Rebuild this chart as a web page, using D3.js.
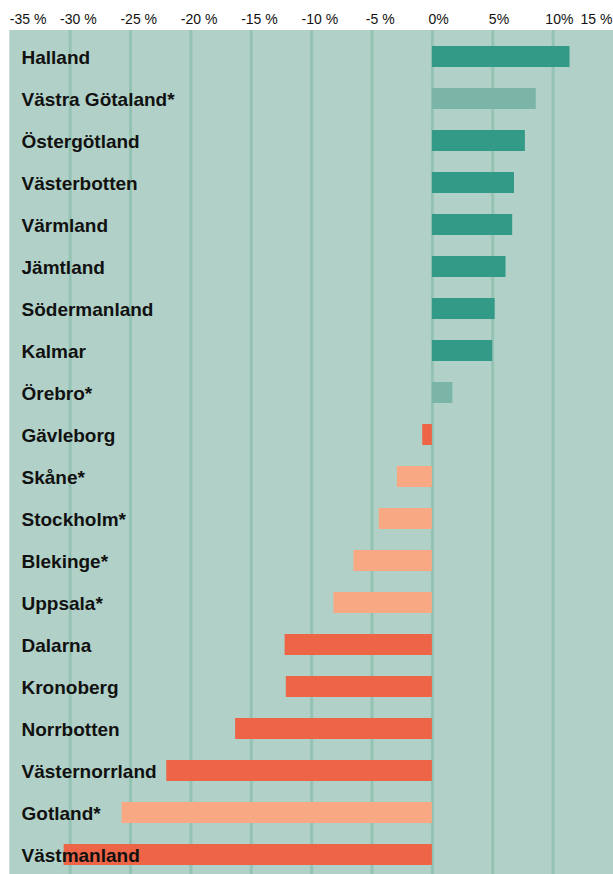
<!DOCTYPE html>
<html>
<head>
<meta charset="utf-8">
<script src="https://cdn.jsdelivr.net/npm/d3@7"></script>
<style>
  body { margin: 0; background: #fff; }
  svg { display: block; }
  .tick-label text { font-family: "Liberation Sans", Arial, sans-serif; font-size: 14px; fill: #111; }
  .label-region { font-family: "Liberation Sans", Arial, sans-serif; font-size: 19px; font-weight: bold; fill: #111; }
</style>
</head>
<body>
<script>
// regions, top to bottom; * = not significant (drawn lighter)
var regions = ["Halland", "Västra Götaland*", "Östergötland", "Västerbotten", "Värmland",
  "Jämtland", "Södermanland", "Kalmar", "Örebro*", "Gävleborg", "Skåne*", "Stockholm*",
  "Blekinge*", "Uppsala*", "Dalarna", "Kronoberg", "Norrbotten", "Västernorrland",
  "Gotland*", "Västmanland"];
var change = [11.4, 8.6, 7.7, 6.8, 6.65, 6.1, 5.2, 5.0, 1.7, -0.8, -2.9, -4.4,
  -6.5, -8.15, -12.2, -12.1, -16.3, -22.0, -25.7, -30.5];
var tickValues = [-35, -30, -25, -20, -15, -10, -5, 0, 5, 10, 15];
var tickLabels = ["-35 %", "-30 %", "-25 %", "-20 %", "-15 %", "-10 %", "-5 %", "0%", "5%", "10%", "15 %"];

var width = 613, height = 874;
var plotTop = 30, plotLeft = 9.3;

var color = {
  posSig: "#339a87", posNs: "#7bb5a8",
  negSig: "#ee6446", negNs: "#f9a884"
};

var data = regions.map(function(r, i) {
  return { name: r, value: change[i], ns: r.indexOf("*") >= 0 };
});

var x = d3.scaleLinear().domain([-35, 15]).range([plotLeft, width]);
var y = d3.scaleBand()
  .domain(regions)
  .range([35.5, 875.5])
  .paddingInner(0.5)
  .paddingOuter(0.25);

var svg = d3.select("body").append("svg")
  .attr("width", width)
  .attr("height", height);

// background panel
svg.append("rect")
  .attr("x", plotLeft)
  .attr("y", plotTop)
  .attr("width", width - plotLeft)
  .attr("height", height - plotTop)
  .attr("fill", "#b1d1c8");

// vertical grid
var grid = svg.append("g")
  .attr("class", "grid")
  .attr("transform", "translate(0," + plotTop + ")")
  .call(d3.axisBottom(x)
    .tickValues(tickValues.slice(1, -1))
    .tickSize(height - plotTop)
    .tickFormat(""));
grid.select(".domain").remove();
grid.selectAll("line").attr("stroke", "#94c3b3").attr("stroke-width", 3);

// bars
svg.selectAll("rect.bar")
  .data(data)
  .enter().append("rect")
  .attr("class", "bar")
  .attr("x", function(d) { return x(Math.min(0, d.value)); })
  .attr("y", function(d) { return y(d.name); })
  .attr("width", function(d) { return Math.abs(x(d.value) - x(0)); })
  .attr("height", y.bandwidth())
  .attr("fill", function(d) {
    if (d.value >= 0) return d.ns ? color.posNs : color.posSig;
    return d.ns ? color.negNs : color.negSig;
  });

// region labels
svg.selectAll("text.label-region")
  .data(data)
  .enter().append("text")
  .attr("class", "label-region")
  .attr("x", 21.5)
  .attr("y", function(d) { return y(d.name) + 18; })
  .text(function(d) { return d.name; });

// top tick labels: number part centered on the tick, kept inside the page
var axis = svg.append("g")
  .attr("class", "tick-label")
  .attr("transform", "translate(0,24)")
  .call(d3.axisTop(x)
    .tickValues(tickValues)
    .tickSize(0)
    .tickPadding(0)
    .tickFormat(function(d, i) { return tickLabels[i]; }));
axis.select(".domain").remove();

axis.selectAll(".tick").each(function(d, i) {
  var t = d3.select(this).select("text");
  var full = t.node().getComputedTextLength();
  t.text(String(d));
  var num = t.node().getComputedTextLength();
  t.text(tickLabels[i]);
  var left = x(d) - num / 2;
  left = Math.max(plotLeft, Math.min(width - 1 - full, left));
  t.attr("text-anchor", "start")
    .attr("x", left - x(d))
    .attr("y", 0)
    .attr("dy", 0);
});
</script>
</body>
</html>
